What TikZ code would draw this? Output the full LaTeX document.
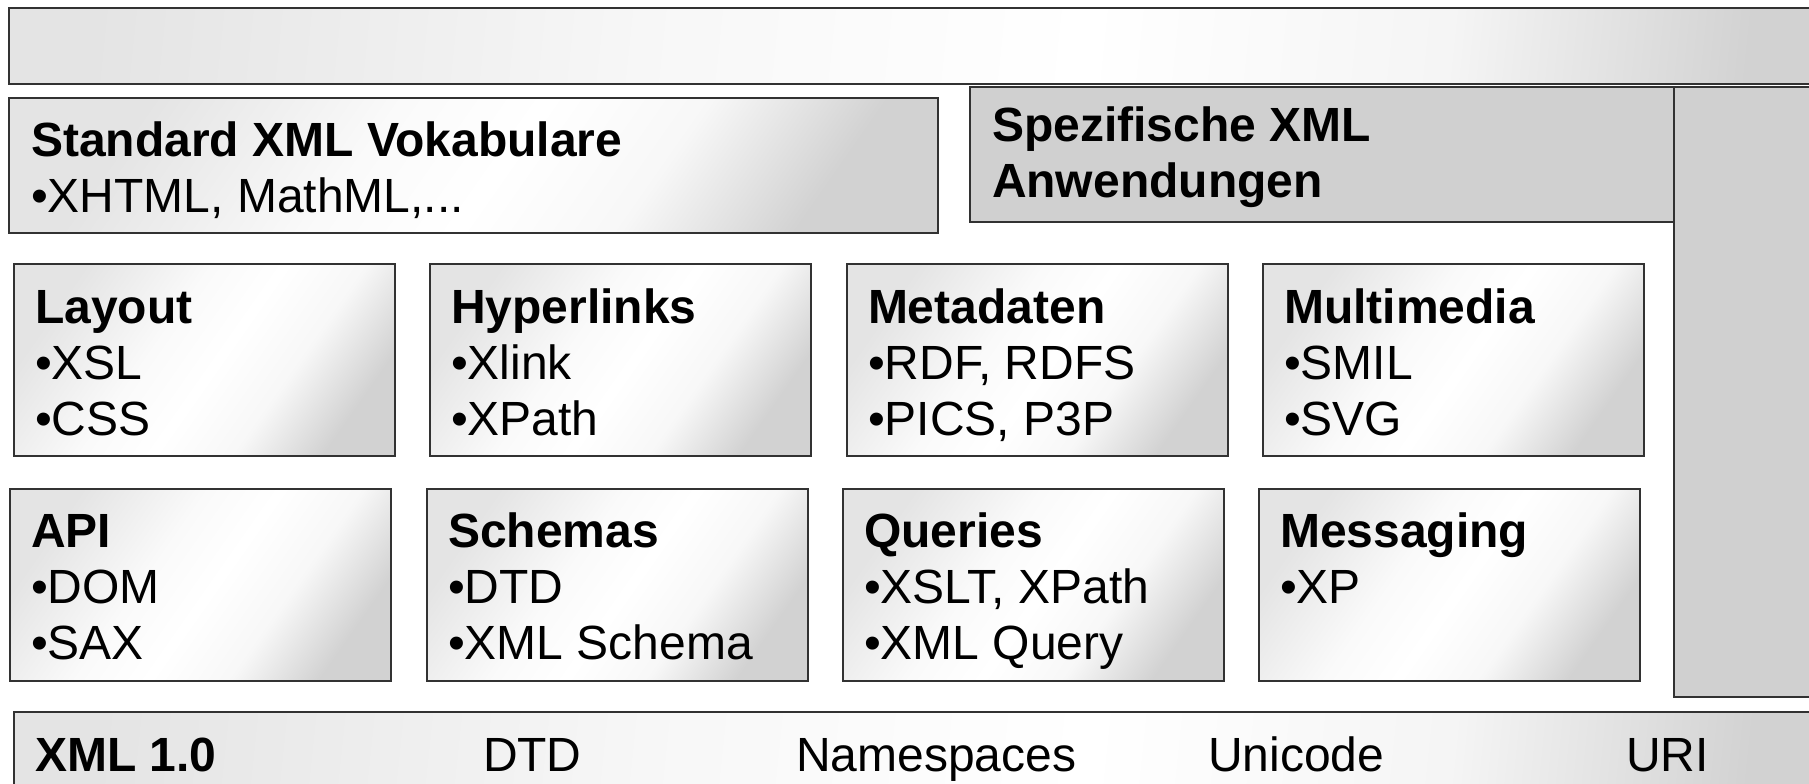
\documentclass[tikz,border=0pt]{standalone}
\usepackage{fontspec}
\setmainfont{Liberation Sans}
\definecolor{bordc}{RGB}{50,50,50}
\definecolor{lgr}{RGB}{228,228,228}
\definecolor{dgr}{RGB}{210,210,210}
\definecolor{spez}{RGB}{208,208,208}
\pgfdeclarehorizontalshading{boxsh}{100bp}{color(0bp)=(lgr); color(25bp)=(lgr); color(42bp)=(white!98!black); color(52bp)=(white); color(63bp)=(white!97!black); color(75bp)=(dgr); color(100bp)=(dgr)}
\pgfdeclarehorizontalshading{barsh}{100bp}{color(0bp)=(lgr); color(25bp)=(lgr); color(42bp)=(white!97!black); color(55bp)=(white); color(66bp)=(white!96!black); color(75bp)=(dgr); color(100bp)=(dgr)}
\begin{document}
\begin{tikzpicture}[x=1pt,y=-1pt,
  frame/.style={draw=bordc, line width=1.6pt, anchor=north west, inner sep=0pt, outer sep=0pt},
  box/.style={frame, shading=boxsh, shading angle=-35},
  bar/.style={frame, shading=barsh, shading angle=-6},
  graybox/.style={frame, fill=spez},
  cell/.style={box, minimum width=381pt, minimum height=192pt},
  txt/.style={anchor=base west, inner sep=0pt, outer sep=0pt, font=\fontsize{48}{56}\selectfont}]
\useasboundingbox (0,0) rectangle (1809,784);
\clip (0,0) rectangle (1809,784);
% top bar
\node[bar, minimum width=1821pt, minimum height=76pt] (top) at (9,8) {};
% vocabularies
\node[box, minimum width=929pt, minimum height=135pt] (std) at (9,98) {};
\node[txt] (stdT) at (31,156) {\begin{tabular}[t]{@{}l@{}}\textbf{Standard XML Vokabulare}\\•XHTML, MathML,...\end{tabular}};
\node[graybox, minimum width=150pt, minimum height=610pt] (tall) at (1674,87) {};
\node[graybox, minimum width=704pt, minimum height=135pt] (spz) at (970,87) {};
\node[txt] (spzT) at (992,141) {\begin{tabular}[t]{@{}l@{}}\textbf{Spezifische XML}\\\textbf{Anwendungen}\end{tabular}};
% row 1
\node[cell] (layout) at (14,264) {};
\node[cell] (hyper) at (430,264) {};
\node[cell] (meta) at (847,264) {};
\node[cell] (multi) at (1263,264) {};
\node[txt] (layoutT) at (35,323) {\begin{tabular}[t]{@{}l@{}}\textbf{Layout}\\•XSL\\•CSS\end{tabular}};
\node[txt] (hyperT) at (451,323) {\begin{tabular}[t]{@{}l@{}}\textbf{Hyperlinks}\\•Xlink\\•XPath\end{tabular}};
\node[txt] (metaT) at (868,323) {\begin{tabular}[t]{@{}l@{}}\textbf{Metadaten}\\•RDF, RDFS\\•PICS, P3P\end{tabular}};
\node[txt] (multiT) at (1284,323) {\begin{tabular}[t]{@{}l@{}}\textbf{Multimedia}\\•SMIL\\•SVG\end{tabular}};
% row 2
\node[cell] (api) at (10,489) {};
\node[cell] (schema) at (427,489) {};
\node[cell] (query) at (843,489) {};
\node[cell] (msg) at (1259,489) {};
\node[txt] (apiT) at (31,547) {\begin{tabular}[t]{@{}l@{}}\textbf{API}\\•DOM\\•SAX\end{tabular}};
\node[txt] (schemaT) at (448,547) {\begin{tabular}[t]{@{}l@{}}\textbf{Schemas}\\•DTD\\•XML Schema\end{tabular}};
\node[txt] (queryT) at (864,547) {\begin{tabular}[t]{@{}l@{}}\textbf{Queries}\\•XSLT, XPath\\•XML Query\end{tabular}};
\node[txt] (msgT) at (1280,547) {\begin{tabular}[t]{@{}l@{}}\textbf{Messaging}\\•XP\end{tabular}};
% bottom bar
\node[bar, minimum width=1816pt, minimum height=90pt] (base) at (14,712) {};
\node[txt] (xmlT) at (35,771) {\textbf{XML 1.0}};
\node[txt] (dtdT) at (483,771) {DTD};
\node[txt] (nsT) at (796,771) {Namespaces};
\node[txt] (uniT) at (1208,771) {Unicode};
\node[txt] (uriT) at (1626,771) {URI};
\end{tikzpicture}
\end{document}
